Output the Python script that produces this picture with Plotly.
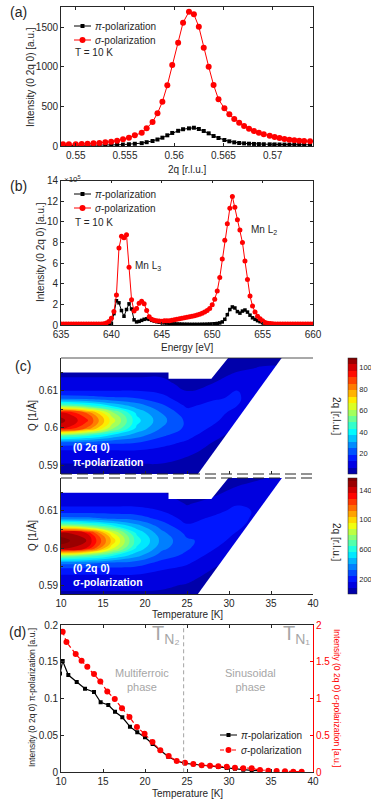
import plotly.graph_objects as go

W, H = 371, 799
FONT = "Liberation Sans, Arial, Helvetica, sans-serif"
INK = "#262626"
RED = "#ff0000"
GRAY = "#a6a6a6"

# ---------------- (a) q-scan at T = 10 K ----------------
q_a = [0.5487, 0.5493, 0.5500, 0.5506, 0.5512, 0.5518, 0.5524, 0.5530, 0.5536, 0.5542,
       0.5548, 0.5554, 0.5560, 0.5567, 0.5572, 0.5578, 0.5583, 0.5588, 0.5593, 0.5598,
       0.5604, 0.5609, 0.5615, 0.5620, 0.5625, 0.5630, 0.5635, 0.5640, 0.5645, 0.5651,
       0.5656, 0.5661, 0.5666, 0.5671, 0.5676, 0.5681, 0.5686, 0.5691, 0.5697, 0.5702,
       0.5707, 0.5712, 0.5717, 0.5722, 0.5727, 0.5732, 0.5738]
sigma_a = [21, 21, 21, 25, 29, 34, 38, 46, 55, 67,
           84, 105, 135, 168, 223, 303, 413, 560, 767, 1024,
           1306, 1559, 1698, 1665, 1508, 1243, 1003, 771, 590, 476,
           400, 341, 295, 253, 219, 190, 168, 148, 130, 114,
           101, 88, 80, 72, 67, 63, 59]
pi_a = [6, 6, 7, 7, 8, 9, 10, 11, 13, 15,
        18, 22, 28, 36, 48, 63, 82, 105, 135, 165,
        192, 212, 223, 231, 215, 190, 160, 126, 101, 76,
        59, 46, 38, 33, 29, 26, 24, 22, 21, 20,
        19, 18, 17, 17, 16, 16, 15]

# ---------------- (b) energy scan at T = 10 K (x 1e5) ----------------
energy_b = [635.00, 635.25, 635.50, 635.75, 636.00, 636.25, 636.50, 636.75, 637.00, 637.25,
            637.50, 637.75, 638.00, 638.25, 638.50, 638.75, 639.00, 639.25, 639.50, 639.75,
            640.00, 640.25, 640.50, 640.75, 641.00, 641.25, 641.50, 641.75, 642.00, 642.25,
            642.50, 642.75, 643.00, 643.25, 643.50, 643.75, 644.00, 644.25, 644.50, 644.75,
            645.00, 645.25, 645.50, 645.75, 646.00, 646.25, 646.50, 646.75, 647.00, 647.25,
            647.50, 647.75, 648.00, 648.25, 648.50, 648.75, 649.00, 649.25, 649.50, 649.75,
            650.00, 650.25, 650.50, 650.75, 651.00, 651.25, 651.50, 651.75, 652.00, 652.25,
            652.50, 652.75, 653.00, 653.25, 653.50, 653.75, 654.00, 654.25, 654.50, 654.75,
            655.00, 655.25, 655.50, 655.75, 656.00, 656.25, 656.50, 656.75, 657.00, 657.25,
            657.50, 657.75, 658.00, 658.25, 658.50, 658.75, 659.00, 659.25, 659.50, 659.75,
            660.00]
sigma_b = [0.1, 0.1, 0.1, 0.1, 0.1, 0.1, 0.1, 0.1, 0.1, 0.1,
           0.1, 0.1, 0.1, 0.1, 0.1, 0.1, 0.1, 0.13, 0.2, 0.35,
           0.65, 1.3, 2.9, 7.45, 8.6, 8.45, 8.75, 5.6, 2.45, 1.35,
           1.6, 2.1, 2.3, 2.05, 1.4, 0.8, 0.55, 0.45, 0.4, 0.38,
           0.37, 0.4, 0.4, 0.42, 0.45, 0.5, 0.55, 0.6, 0.65, 0.7,
           0.75, 0.8, 0.85, 0.9, 0.97, 1.05, 1.15, 1.25, 1.4, 1.6,
           1.95, 2.5, 3.3, 4.6, 6.4, 8.2, 9.8, 11.3, 12.45, 11.4,
           10.2, 9.2, 8.0, 6.2, 4.4, 2.8, 1.85, 1.25, 0.85, 0.6,
           0.4, 0.25, 0.18, 0.14, 0.12, 0.1, 0.1, 0.1, 0.1, 0.1,
           0.1, 0.1, 0.1, 0.1, 0.1, 0.1, 0.1, 0.1, 0.1, 0.1,
           0.1]
pi_b = [0.03, 0.03, 0.03, 0.03, 0.03, 0.03, 0.03, 0.03, 0.03, 0.03,
        0.03, 0.03, 0.03, 0.03, 0.03, 0.03, 0.03, 0.03, 0.03, 0.03,
        0.15, 1.1, 2.35, 2.15, 1.4, 0.85, 1.5, 2.05, 1.55, 0.5,
        0.3, 0.35, 0.45, 0.55, 0.6, 0.55, 0.45, 0.38, 0.32, 0.27,
        0.23, 0.2, 0.18, 0.15, 0.13, 0.11, 0.1, 0.09, 0.08, 0.07,
        0.07, 0.06, 0.06, 0.06, 0.06, 0.06, 0.07, 0.07, 0.08, 0.09,
        0.1, 0.12, 0.15, 0.2, 0.3, 0.55, 1.0, 1.5, 1.75, 1.65,
        1.3, 1.15, 1.35, 1.45, 1.25, 0.95, 0.7, 0.55, 0.42, 0.32,
        0.22, 0.12, 0.06, 0.03, 0.02, 0.02, 0.02, 0.02, 0.02, 0.02,
        0.02, 0.02, 0.02, 0.02, 0.02, 0.02, 0.02, 0.02, 0.02, 0.02,
        0.02]

# ---------------- (c) temperature maps ----------------
T_map = [10, 13, 16, 19, 22, 25, 28, 31, 34, 37, 40]
Q_map = [0.586, 0.588, 0.590, 0.592, 0.594, 0.596, 0.598, 0.600, 0.602,
         0.604, 0.606, 0.608, 0.610, 0.612, 0.614, 0.616, 0.618, 0.620]
# one column (along Q_map) per temperature in T_map
pi_map_cols = [
    [4, 5, 6.5, 9, 13, 23, 52, 100, 105, 100, 52, 23, 13, 9, 6.5, 5, 4, 3],
    [4, 5, 6.5, 9, 13, 22, 46, 85, 93, 85, 46, 22, 13, 9, 6.5, 5, 4, 3],
    [4, 5, 6.5, 9, 13, 20, 36, 58, 65, 58, 36, 20, 13, 9, 6.5, 5, 4, 3],
    [4, 5, 6.5, 9, 13, 19, 28, 36, 39, 36, 28, 19, 13, 9, 6.5, 5, 4, 3],
    [4.1, 5.2, 6.6, 8.5, 11.3, 15.2, 20.1, 24.8, 27, 24.8, 20.1, 15.2, 11.3, 8.5, 6.6, 5.2, 4.1, 3.4],
    [3.2, 4.1, 5.2, 6.8, 9.0, 11.9, 15.2, 17.6, 17.6, 15.2, 11.9, 9.0, 6.8, 5.2, 4.1, 3.2, 2.6, 2.2],
    [2.1, 2.6, 3.2, 4.1, 5.3, 6.9, 9.2, 12.1, 14.8, 16, 14.8, 12.1, 9.2, 6.9, 5.3, 4.1, 3.2, 2.6],
    [1.3, 1.5, 1.8, 2.3, 2.8, 3.6, 4.6, 6.1, 8.1, 10.6, 13, 14, 13, 10.6, 8.1, 6.1, 4.6, 3.6],
    [0.7, 0.8, 0.9, 1.1, 1.3, 1.6, 2.0, 2.5, 3.3, 4.3, 5.8, 7.5, 9.3, 10, 9.3, 7.5, 5.8, 4.3],
    [0.4, 0.4, 0.5, 0.5, 0.6, 0.8, 0.9, 1.1, 1.4, 1.8, 2.3, 3.0, 4.0, 5.3, 6.5, 7, 6.5, 5.3],
    [0.2, 0.2, 0.3, 0.3, 0.3, 0.4, 0.5, 0.5, 0.7, 0.8, 1.0, 1.3, 1.6, 2.2, 2.9, 3.8, 4.6, 5],
]
sigma_map_cols = [
    [60, 75, 100, 135, 200, 350, 800, 1480, 1560, 1480, 800, 350, 200, 135, 100, 75, 60, 45],
    [60, 75, 100, 135, 200, 340, 720, 1360, 1450, 1360, 720, 340, 200, 135, 100, 75, 60, 45],
    [60, 75, 100, 135, 200, 310, 580, 920, 1030, 920, 580, 310, 200, 135, 100, 75, 60, 45],
    [60, 75, 100, 135, 195, 285, 430, 550, 600, 550, 430, 285, 195, 135, 100, 75, 60, 47],
    [58, 73, 92, 120, 159, 214, 282, 345, 375, 345, 282, 214, 159, 120, 92, 73, 58, 48],
    [47, 59, 75, 98, 130, 172, 220, 252, 252, 220, 172, 130, 98, 75, 59, 47, 38, 31],
    [30, 37, 46, 58, 76, 100, 132, 173, 213, 230, 213, 173, 132, 100, 76, 58, 46, 37],
    [18, 22, 26, 32, 40, 51, 66, 87, 115, 151, 185, 200, 185, 151, 115, 87, 66, 51],
    [10, 12, 14, 16, 20, 24, 30, 38, 49, 65, 86, 113, 139, 150, 139, 113, 86, 65],
    [5, 6, 7, 8, 9, 11, 13, 16, 20, 25, 33, 43, 58, 75, 93, 100, 93, 75],
    [3, 3, 4, 4, 5, 5, 6, 8, 9, 11, 14, 18, 23, 30, 40, 53, 65, 70],
]
# regions of the (T, Q) plane without measured data (blank in the maps)
nodata_top_T = [9, 22.8, 22.8, 27.9, 32.1, 9]
nodata_top_Q = [0.6149, 0.6149, 0.6132, 0.6132, 0.625, 0.625]
nodata_diag_T = [23.87, 38.25, 41, 41]
nodata_diag_Q = [0.58, 0.625, 0.625, 0.58]
pi_cbar_ticks = [20, 40, 60, 80, 100]
sigma_cbar_ticks = [200, 600, 1000, 1400]

# ---------------- (d) temperature dependence ----------------
T_pi_d = [9.88, 10.2, 10.87, 11.87, 12.86, 13.93, 14.72, 15.63, 16.43, 17.3,
          18.21, 19.08, 20.0, 20.91, 21.79, 22.77, 23.77, 24.76, 25.75, 26.75,
          27.74, 28.73, 29.73, 30.71, 31.7, 32.7, 33.7]
I_pi_d = [0.134, 0.151, 0.132, 0.1226, 0.1135, 0.109, 0.095, 0.0914, 0.0823, 0.0747,
          0.062, 0.0543, 0.0475, 0.0384, 0.0303, 0.0212, 0.0153, 0.0122, 0.0109, 0.0095,
          0.0081, 0.0072, 0.0058, 0.0049, 0.0035, 0.0027, 0.002]
T_sigma_d = [10.2, 10.65, 11.75, 12.45, 13.13, 13.93, 14.68, 15.51, 16.4, 17.26,
             18.15, 19.04, 19.95, 20.89, 21.82, 22.82, 23.77, 24.76, 25.75, 26.75,
             27.74, 28.73, 29.73, 30.71, 31.7, 32.7, 33.69, 34.68, 35.67, 36.67,
             37.65, 38.65]
I_sigma_d = [1.91, 1.77, 1.606, 1.515, 1.434, 1.335, 1.233, 1.097, 0.995, 0.869,
             0.751, 0.615, 0.523, 0.41, 0.298, 0.221, 0.153, 0.130, 0.113, 0.095,
             0.090, 0.081, 0.076, 0.063, 0.054, 0.054, 0.031, 0.022, 0.018, 0.014,
             0.008, 0.008]
T_N2 = 24.6

JET = [[0.0, "rgb(0,0,143)"], [0.11, "rgb(0,0,255)"], [0.365, "rgb(0,255,255)"],
       [0.619, "rgb(255,255,0)"], [0.873, "rgb(255,0,0)"], [1.0, "rgb(128,0,0)"]]


def fx(p):
    return p / W


def fy(p):
    return 1 - p / H


XD = [fx(61), fx(313)]
TF = dict(size=10, color=INK, family=FONT)
base = dict(showline=True, linecolor=INK, linewidth=0.8, ticks="inside", ticklen=3,
            tickcolor=INK, tickwidth=0.8, showgrid=False, zeroline=False, tickfont=TF)

fig = go.Figure()

# (a)
fig.add_trace(go.Scatter(x=q_a, y=pi_a, mode="lines+markers", name="π-polarization",
                         line=dict(color="black", width=1),
                         marker=dict(symbol="square", size=4, color="black"),
                         xaxis="x", yaxis="y", showlegend=False))
fig.add_trace(go.Scatter(x=q_a, y=sigma_a, mode="lines+markers", name="σ-polarization",
                         line=dict(color=RED, width=1),
                         marker=dict(symbol="circle", size=6, color=RED),
                         xaxis="x", yaxis="y", showlegend=False))
# (b)
fig.add_trace(go.Scatter(x=energy_b, y=pi_b, mode="lines+markers", name="π-polarization",
                         line=dict(color="black", width=1),
                         marker=dict(symbol="square", size=3.5, color="black"),
                         xaxis="x2", yaxis="y2", showlegend=False))
fig.add_trace(go.Scatter(x=energy_b, y=sigma_b, mode="lines+markers", name="σ-polarization",
                         line=dict(color=RED, width=1),
                         marker=dict(symbol="circle", size=5, color=RED),
                         xaxis="x2", yaxis="y2", showlegend=False))

# (c) maps
pi_map = [list(r) for r in zip(*pi_map_cols)]
sigma_map = [list(r) for r in zip(*sigma_map_cols)]
cb_common = dict(x=fx(348), xanchor="left", xpad=0, ypad=0, thickness=9, thicknessmode="pixels",
                 lenmode="fraction", outlinewidth=0.5, outlinecolor=INK, ticks="", ticklen=0,
                 tickfont=dict(size=7.5, color=INK, family=FONT))
fig.add_trace(go.Contour(x=T_map, y=Q_map, z=pi_map, xaxis="x3", yaxis="y3",
                         colorscale=JET, zmin=1, zmax=109, autocontour=False,
                         contours=dict(start=1, end=109, size=6, coloring="fill", showlines=False),
                         line=dict(width=0, smoothing=1.3), hoverinfo="skip",
                         colorbar=dict(cb_common, y=fy(416), yanchor="middle", len=116 / H,
                                       tickvals=pi_cbar_ticks)))
fig.add_trace(go.Contour(x=T_map, y=Q_map, z=sigma_map, xaxis="x5", yaxis="y5",
                         colorscale=JET, zmin=0, zmax=1560, autocontour=False,
                         contours=dict(start=0, end=1560, size=80, coloring="fill", showlines=False),
                         line=dict(width=0, smoothing=1.3), hoverinfo="skip",
                         colorbar=dict(cb_common, y=fy(536), yanchor="middle", len=116 / H,
                                       tickvals=sigma_cbar_ticks)))
for xa, ya in (("x3", "y3"), ("x5", "y5")):
    for tx, qy in ((nodata_top_T, nodata_top_Q), (nodata_diag_T, nodata_diag_Q)):
        fig.add_trace(go.Scatter(x=tx, y=qy, fill="toself", fillcolor="white", mode="lines",
                                 line=dict(width=0, color="white"), hoverinfo="skip",
                                 showlegend=False, xaxis=xa, yaxis=ya))

# (d)
fig.add_trace(go.Scatter(x=T_pi_d, y=I_pi_d, mode="lines+markers", name="π-polarization",
                         line=dict(color="black", width=1.2),
                         marker=dict(symbol="square", size=4, color="black"),
                         xaxis="x7", yaxis="y7", showlegend=False))
fig.add_trace(go.Scatter(x=T_sigma_d, y=I_sigma_d, mode="lines+markers", name="σ-polarization",
                         line=dict(color=RED, width=1.2, dash="4px,3px"),
                         marker=dict(symbol="circle", size=6, color=RED),
                         xaxis="x7", yaxis="y8", showlegend=False))

minor_q = dict(ticks="inside", dtick=0.005, tick0=0, ticklen=2, tickcolor=INK, tickwidth=0.8)

fig.update_layout(
    width=W, height=H, margin=dict(l=0, r=0, t=0, b=0, autoexpand=False),
    paper_bgcolor="white", plot_bgcolor="white", showlegend=False,
    font=dict(family=FONT, size=10, color=INK),
    xaxis=dict(base, domain=XD, anchor="y", range=[0.5485, 0.5741], tick0=0.55, dtick=0.005,
               mirror="ticks"),
    yaxis=dict(base, domain=[fy(146), fy(7)], anchor="x", range=[0, 1757], dtick=500,
               mirror="ticks"),
    xaxis2=dict(base, domain=XD, anchor="y2", range=[635, 660], dtick=5, mirror="ticks"),
    yaxis2=dict(base, domain=[fy(325), fy(180.5)], anchor="x2", range=[0, 14], dtick=2,
                mirror="ticks"),
    xaxis3=dict(base, domain=XD, anchor="y3", range=[10, 40], dtick=5, showline=False,
                showticklabels=False),
    yaxis3=dict(base, domain=[fy(474), fy(358)], anchor="x3", range=[0.5876, 0.6188],
                tick0=0, dtick=0.01, minor=minor_q),
    yaxis4=dict(base, overlaying="y3", side="right", anchor="x3", range=[0.5479, 0.5776],
                tick0=0, dtick=0.01, minor=minor_q),
    xaxis5=dict(base, domain=XD, anchor="y5", range=[10, 40], dtick=5),
    yaxis5=dict(base, domain=[fy(594), fy(478)], anchor="x5", range=[0.5876, 0.6189],
                tick0=0, dtick=0.01, minor=minor_q),
    yaxis6=dict(base, overlaying="y5", side="right", anchor="x5", range=[0.5479, 0.5770],
                tick0=0, dtick=0.01, minor=minor_q),
    xaxis7=dict(base, domain=XD, anchor="y7", range=[10, 40], dtick=5, mirror="ticks"),
    yaxis7=dict(base, domain=[fy(772.3), fy(625)], anchor="x7", range=[0, 0.2], dtick=0.05),
    yaxis8=dict(base, overlaying="y7", side="right", anchor="x7", range=[0, 2], dtick=0.5,
                linecolor=RED, tickcolor=RED, tickfont=dict(size=10, color=RED, family=FONT)),
)

# frame pieces of the map panels
fig.add_shape(type="line", xref="paper", yref="paper", x0=XD[0], x1=XD[1], y0=fy(358), y1=fy(358),
              line=dict(color=INK, width=0.8))
for yy in (474, 478):
    fig.add_shape(type="line", xref="paper", yref="paper", x0=XD[0], x1=XD[1], y0=fy(yy), y1=fy(yy),
                  line=dict(color=INK, width=1.2, dash="11px,5px"))
# transition line in (d)
fig.add_shape(type="line", xref="x7", yref="y7 domain", x0=T_N2, x1=T_N2, y0=0, y1=1,
              line=dict(color="#8c8c8c", width=0.8, dash="4px,3px"))


def ann(text, x, y, size=10, color=INK, angle=0, xanchor="center", bold=False):
    if bold:
        text = "<b>" + text + "</b>"
    fig.add_annotation(text=text, x=fx(x), y=fy(y), xref="paper", yref="paper",
                       showarrow=False, textangle=angle, xanchor=xanchor, yanchor="middle",
                       font=dict(size=size, color=color, family=FONT))


def legend_key(x0, x1, y, color, symbol, dash="solid", msize=4):
    fig.add_shape(type="line", xref="paper", yref="paper", x0=fx(x0), x1=fx(x1), y0=fy(y), y1=fy(y),
                  line=dict(color=color, width=1, dash=dash))
    cx = (x0 + x1) / 2
    r = msize / 2
    fig.add_shape(type="rect" if symbol == "square" else "circle", xref="paper", yref="paper",
                  x0=fx(cx - r), x1=fx(cx + r), y0=fy(y + r), y1=fy(y - r),
                  fillcolor=color, line=dict(width=0))


# legends (keys + labels)
for (ly1, ly2, lx0, lx1) in ((26, 40, 74, 91), (194, 208, 74, 91), (735, 750, 220, 237)):
    legend_key(lx0, lx1, ly1, "black", "square", msize=4)
    legend_key(lx0, lx1, ly2, RED, "circle", dash="4px,2px" if ly1 > 700 else "solid", msize=6)
    ann("<i>π</i>-polarization", lx1 + 2, ly1, 10, xanchor="left")
    ann("<i>σ</i>-polarization", lx1 + 2, ly2, 10, xanchor="left")

# panel letters
ann("(a)", 18, 12, 14)
ann("(b)", 18, 186, 14)
ann("(c)", 23, 366, 14)
ann("(d)", 17, 632, 14)
# axis titles
ann("2q [r.l.u.]", 187, 169)
ann("Intensity (0 2q 0) [a.u.]", 30, 77, angle=-90)
ann("Energy [eV]", 187, 347)
ann("Intensity (0 2q 0) [a.u.]", 40, 252, angle=-90)
ann("Temperature [K]", 187, 614)
ann("Q [1/Å]", 32, 416, angle=-90)
ann("Q [1/Å]", 32, 536, angle=-90)
ann("2q [r.l.u.]", 337, 416, angle=90)
ann("2q [r.l.u.]", 337, 542, angle=90)
ann("Temperature [K]", 187, 793)
ann("Intensity (0 2q 0) π-polarization [a.u.]", 32, 698, size=8.5, angle=-90)
ann("Intensity (0 2q 0) σ-polarization [a.u.]", 337, 698, size=8.5, color=RED, angle=90)
# in-plot texts
ann("T = 10 K", 73, 53, xanchor="left")
ann("T = 10 K", 73, 223, xanchor="left")
ann("×10<sup>5</sup>", 62, 179, size=8, xanchor="left")
ann("Mn L<sub>3</sub>", 148, 266)
ann("Mn L<sub>2</sub>", 264, 230)
ann("(0 2q 0)", 71, 447, 10.5, "white", xanchor="left", bold=True)
ann("π-polarization", 71, 462, 10.5, "white", xanchor="left", bold=True)
ann("(0 2q 0)", 71, 568, 10.5, "white", xanchor="left", bold=True)
ann("σ-polarization", 71, 582, 10.5, "white", xanchor="left", bold=True)
ann("T<sub>N₂</sub>", 166, 634, 20, GRAY)
ann("T<sub>N₁</sub>", 296, 634, 20, GRAY)
ann("Multiferroic<br>phase", 142, 680, 11, GRAY)
ann("Sinusoidal<br>phase", 250, 680, 11, GRAY)

fig.write_html("out.html")
